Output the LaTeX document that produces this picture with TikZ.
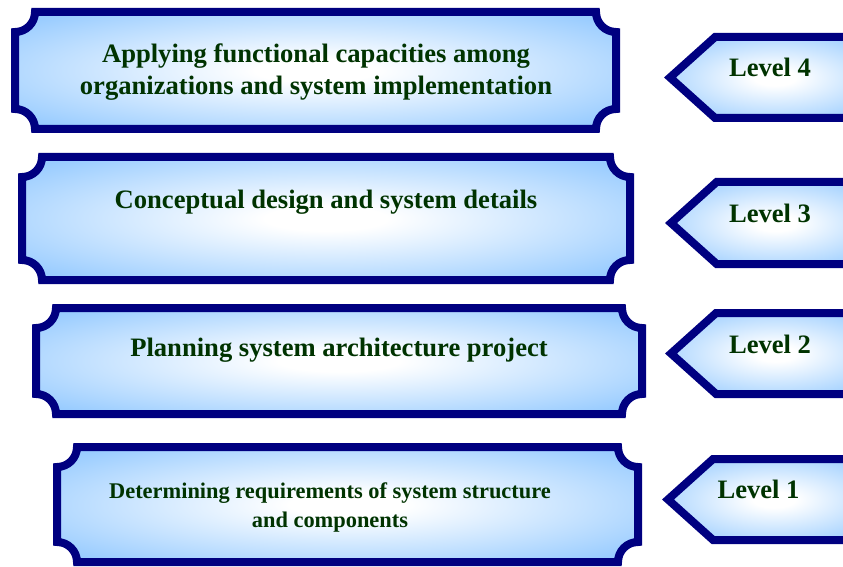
\documentclass[tikz,border=0pt]{standalone}
\usepackage{fontspec}
\setmainfont{Liberation Serif}
\definecolor{navyb}{RGB}{0,0,128}
\definecolor{skyb}{RGB}{153,204,255}
\definecolor{txtgreen}{RGB}{0,51,0}
\pgfdeclareradialshading{plaqueshade}{\pgfpoint{0bp}{0bp}}{color(0bp)=(white); color(5bp)=(white); color(32bp)=(skyb); color(50bp)=(skyb)}
\tikzset{
  plaque/.style={draw=navyb, line width=8pt, miter limit=10, shading=plaqueshade},
  levelshape/.style={draw=navyb, line width=8pt, miter limit=10, shading=plaqueshade},
  boxtext/.style={text=txtgreen, font=\bfseries\fontsize{26.6}{32}\selectfont, align=center, inner sep=0pt},
  smalltext/.style={text=txtgreen, font=\bfseries\fontsize{22.4}{29}\selectfont, align=center, inner sep=0pt},
  leveltext/.style={text=txtgreen, font=\bfseries\fontsize{26.6}{32}\selectfont, inner sep=0pt, anchor=base}
}
\newcommand\plaquebox[4]{%
  \pgfmathsetmacro\pxl{#1+4}\pgfmathsetmacro\pxr{#3-4}%
  \pgfmathsetmacro\pyt{566-#2-4}\pgfmathsetmacro\pyb{566-#4+4}%
  \shadedraw[plaque] (\pxl+20,\pyt) -- (\pxr-20,\pyt)
    arc[start angle=180,end angle=270,radius=20pt] -- (\pxr,\pyb+20)
    arc[start angle=90,end angle=180,radius=20pt] -- (\pxl+20,\pyb)
    arc[start angle=0,end angle=90,radius=20pt] -- (\pxl,\pyt-20)
    arc[start angle=270,end angle=360,radius=20pt] -- cycle;}
\newcommand\levelarrow[3]{%
  \pgfmathsetmacro\ltx{#1+6}\pgfmathsetmacro\lyt{566-#2-4}\pgfmathsetmacro\lyb{566-#3+4}%
  \pgfmathsetmacro\lym{(\lyt+\lyb)/2}\pgfmathsetmacro\lcx{\ltx+0.5*(\lyt-\lyb)*49/44}%
  \shadedraw[levelshape] (\ltx,\lym) -- (\lcx,\lyt) -- (880,\lyt) -- (880,\lyb) -- (\lcx,\lyb) -- cycle;}
\begin{document}
\begin{tikzpicture}[x=1pt,y=1pt]
\useasboundingbox (0,0) rectangle (843,566);
\clip (0,0) rectangle (843,566);
\plaquebox{11}{8}{620}{133}
\plaquebox{18}{153}{634}{284}
\plaquebox{32}{304}{646}{418}
\plaquebox{53}{443}{642}{566}
\levelarrow{664}{33}{122}
\levelarrow{665}{178}{268}
\levelarrow{665}{309}{398}
\levelarrow{662}{455}{544}
\node[boxtext] (t4) at (316,494.4) {Applying functional capacities among\\organizations and system implementation};
\node[boxtext, anchor=base] (t3) at (326,358) {Conceptual design and system details};
\node[boxtext, anchor=base] (t2) at (339,210) {Planning system architecture project};
\node[smalltext] (t1) at (330,58.7) {Determining requirements of system structure\\and components};
\node[leveltext] (l4) at (770,489) {Level 4};
\node[leveltext] (l3) at (770,344) {Level 3};
\node[leveltext] (l2) at (770,213) {Level 2};
\node[leveltext] (l1) at (758.5,68) {Level 1};
\end{tikzpicture}
\end{document}
